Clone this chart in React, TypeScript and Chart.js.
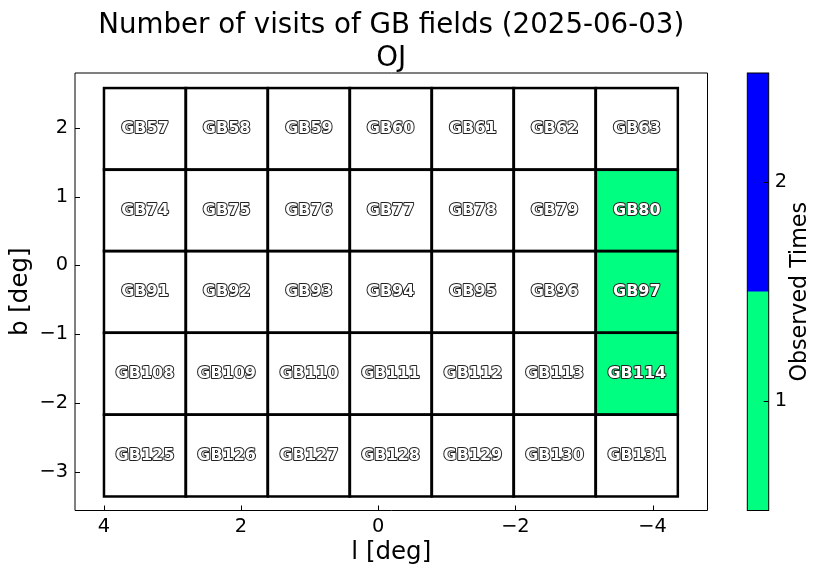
import React, { useEffect, useRef } from "react";
import { Chart, registerables } from "chart.js";

Chart.register(...registerables);

const titleLines = ["Number of visits of GB fields (2025-06-03)", "OJ"];
const fieldNames = [
  "GB57", "GB58", "GB59", "GB60", "GB61", "GB62", "GB63",
  "GB74", "GB75", "GB76", "GB77", "GB78", "GB79", "GB80",
  "GB91", "GB92", "GB93", "GB94", "GB95", "GB96", "GB97",
  "GB108", "GB109", "GB110", "GB111", "GB112", "GB113", "GB114",
  "GB125", "GB126", "GB127", "GB128", "GB129", "GB130", "GB131",
];
const columnL = [3.4, 2.21, 1.01, -0.18, -1.38, -2.57, -3.77];
const rowB = [1.986, 0.801, -0.384, -1.576, -2.768];
const visits = [
  0, 0, 0, 0, 0, 0, 0,
  0, 0, 0, 0, 0, 0, 1,
  0, 0, 0, 0, 0, 0, 1,
  0, 0, 0, 0, 0, 0, 1,
  0, 0, 0, 0, 0, 0, 0,
];
const xTicks = [4, 2, 0, -2, -4];
const yTicks = [2, 1, 0, -1, -2, -3];
const cbTicks = [1, 2];
const cbRanges: [number, number][] = [[0.5, 1.5], [1.5, 2.5]];
const cbColors = ["#00ff80", "#0000ff"];

const CELL_W = 1.195;
const CELL_H = 1.19;
const FONT = "'DejaVu Sans', sans-serif";
const fmt = (v: number | string) => String(v).replace("-", "\u2212");
const colorFor = (v: number) => (v <= 0 ? "#ffffff" : cbColors[Math.min(v, cbColors.length) - 1]);

export default function App() {
  const mainRef = useRef<HTMLCanvasElement>(null);
  const cbRef = useRef<HTMLCanvasElement>(null);

  useEffect(() => {
    const points = fieldNames.map((name, i) => ({
      x: columnL[i % columnL.length],
      y: rowB[Math.floor(i / columnL.length)],
    }));

    const cellsPlugin = {
      id: "cells",
      afterDatasetsDraw(chart: any) {
        const { ctx, chartArea, scales } = chart;
        const xs = scales.x;
        const ys = scales.y;
        ctx.save();
        points.forEach((p, i) => {
          const x1 = xs.getPixelForValue(p.x + CELL_W / 2);
          const x2 = xs.getPixelForValue(p.x - CELL_W / 2);
          const y1 = ys.getPixelForValue(p.y + CELL_H / 2);
          const y2 = ys.getPixelForValue(p.y - CELL_H / 2);
          ctx.fillStyle = colorFor(visits[i]);
          ctx.fillRect(x1, y1, x2 - x1, y2 - y1);
        });
        ctx.strokeStyle = "#000";
        ctx.lineWidth = 2.5;
        points.forEach((p) => {
          const x1 = xs.getPixelForValue(p.x + CELL_W / 2);
          const x2 = xs.getPixelForValue(p.x - CELL_W / 2);
          const y1 = ys.getPixelForValue(p.y + CELL_H / 2);
          const y2 = ys.getPixelForValue(p.y - CELL_H / 2);
          ctx.strokeRect(x1, y1, x2 - x1, y2 - y1);
        });
        ctx.font = `bold 16px ${FONT}`;
        ctx.textAlign = "center";
        ctx.textBaseline = "middle";
        ctx.lineJoin = "round";
        points.forEach((p, i) => {
          const px = xs.getPixelForValue(p.x);
          const py = ys.getPixelForValue(p.y);
          ctx.lineWidth = 2;
          ctx.strokeStyle = "#222";
          ctx.strokeText(fieldNames[i], px, py);
          ctx.fillStyle = "#fff";
          ctx.fillText(fieldNames[i], px, py);
        });
        ctx.lineWidth = 1;
        ctx.strokeStyle = "#000";
        ctx.strokeRect(chartArea.left, chartArea.top, chartArea.right - chartArea.left, chartArea.bottom - chartArea.top);
        ctx.beginPath();
        xs.ticks.forEach((t: any) => {
          const px = Math.round(xs.getPixelForValue(t.value)) + 0.5;
          ctx.moveTo(px, chartArea.bottom);
          ctx.lineTo(px, chartArea.bottom - 5);
        });
        ys.ticks.forEach((t: any) => {
          const py = Math.round(ys.getPixelForValue(t.value)) + 0.5;
          ctx.moveTo(chartArea.left, py);
          ctx.lineTo(chartArea.left + 5, py);
        });
        ctx.stroke();
        ctx.fillStyle = "#000";
        ctx.font = `27.7px ${FONT}`;
        ctx.textAlign = "center";
        ctx.textBaseline = "alphabetic";
        const cx = (chartArea.left + chartArea.right) / 2;
        ctx.fillText(titleLines[0], cx, chartArea.top - 40);
        ctx.fillText(titleLines[1], cx, chartArea.top - 7);
        ctx.restore();
      },
    };

    const main = new Chart(mainRef.current!, {
      type: "scatter",
      data: {
        datasets: [{ data: points, pointRadius: 0, pointHoverRadius: 0, showLine: false }],
      },
      options: {
        animation: false,
        responsive: true,
        maintainAspectRatio: false,
        events: [],
        layout: { padding: { top: 73, right: 114.5, left: 0, bottom: 0 } },
        plugins: { legend: { display: false }, tooltip: { enabled: false }, title: { display: false } },
        scales: {
          x: {
            type: "linear",
            reverse: true,
            min: -4.8,
            max: 4.42,
            afterBuildTicks: (s: any) => { s.ticks = xTicks.map((v) => ({ value: v })); },
            afterFit: (s: any) => { s.height = 64.5; },
            grid: { display: false, drawTicks: false },
            border: { display: false },
            ticks: { color: "#000", font: { family: FONT, size: 19.4 }, padding: 5, maxRotation: 0, callback: (v: any) => fmt(v) },
            title: { display: true, text: "l [deg]", color: "#000", font: { family: FONT, size: 24.5 }, padding: { top: 0, bottom: 8 } },
          },
          y: {
            type: "linear",
            min: -3.567,
            max: 2.8,
            afterBuildTicks: (s: any) => { s.ticks = yTicks.map((v) => ({ value: v })); },
            afterFit: (s: any) => { s.width = 75; },
            grid: { display: false, drawTicks: false },
            border: { display: false },
            ticks: { color: "#000", font: { family: FONT, size: 19.4 }, padding: 7, callback: (v: any) => fmt(v) },
            title: { display: true, text: "b [deg]", color: "#000", font: { family: FONT, size: 24.5 }, padding: { top: 6, bottom: 0 } },
          },
        },
      },
      plugins: [cellsPlugin],
    } as any);

    const cbPlugin = {
      id: "cbframe",
      afterDatasetsDraw(chart: any) {
        const { ctx, chartArea, scales } = chart;
        const ys = scales.y;
        ctx.save();
        ctx.lineWidth = 1;
        ctx.strokeStyle = "#000";
        ctx.strokeRect(chartArea.left, chartArea.top, chartArea.right - chartArea.left, chartArea.bottom - chartArea.top);
        ctx.beginPath();
        ys.ticks.forEach((t: any) => {
          const py = Math.round(ys.getPixelForValue(t.value)) + 0.5;
          ctx.moveTo(chartArea.right, py);
          ctx.lineTo(chartArea.right - 5, py);
        });
        ctx.stroke();
        ctx.translate(chartArea.right + 32, (chartArea.top + chartArea.bottom) / 2);
        ctx.rotate(-Math.PI / 2);
        ctx.fillStyle = "#000";
        ctx.font = `22.2px ${FONT}`;
        ctx.textAlign = "center";
        ctx.textBaseline = "middle";
        ctx.fillText("Observed Times", 0, 0);
        ctx.restore();
      },
    };

    const cb = new Chart(cbRef.current!, {
      type: "bar",
      data: {
        labels: [""],
        datasets: cbRanges.map((r, i) => ({
          data: [r],
          backgroundColor: cbColors[i],
          borderWidth: 0,
          grouped: false,
          barPercentage: 1,
          categoryPercentage: 1,
        })),
      },
      options: {
        animation: false,
        responsive: true,
        maintainAspectRatio: false,
        events: [],
        layout: { padding: { top: 73, bottom: 64.5, left: 7.3, right: 0 } },
        plugins: { legend: { display: false }, tooltip: { enabled: false } },
        scales: {
          x: { display: false },
          y: {
            position: "right",
            min: 0.5,
            max: 2.5,
            afterBuildTicks: (s: any) => { s.ticks = cbTicks.map((v) => ({ value: v })); },
            afterFit: (s: any) => { s.width = 53.3; },
            grid: { display: false, drawTicks: false },
            border: { display: false },
            ticks: { color: "#000", font: { family: FONT, size: 19.4 }, padding: 6 },
          },
        },
      },
      plugins: [cbPlugin],
    } as any);

    return () => {
      main.destroy();
      cb.destroy();
    };
  }, []);

  return (
    <div style={{ position: "absolute", left: 0, top: 0, width: 822, height: 575, background: "#fff" }}>
      <div style={{ position: "absolute", left: 0, top: 0, width: 822, height: 575 }}>
        <canvas ref={mainRef} />
      </div>
      <div style={{ position: "absolute", left: 740, top: 0, width: 82, height: 575 }}>
        <canvas ref={cbRef} />
      </div>
    </div>
  );
}
